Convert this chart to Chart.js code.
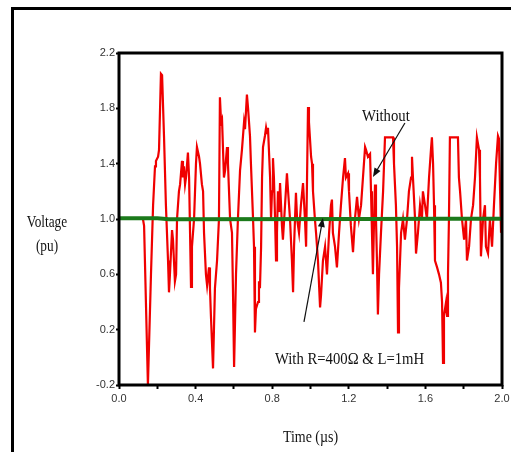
<!DOCTYPE html>
<html>
<head>
<meta charset="utf-8">
<script src="https://cdn.jsdelivr.net/npm/chart.js@4"></script>
<style>
  html, body { margin: 0; padding: 0; background: #fff; }
  #wrap { width: 511px; height: 452px; }
</style>
</head>
<body>
<div id="wrap"><canvas id="voltage-chart" width="511" height="452"></canvas></div>
<script>
// Red trace (without damping), time in µs and voltage in pu
const redTime = [
  0.125, 0.131, 0.151, 0.167, 0.178, 0.188, 0.193, 0.204, 0.209, 0.219, 0.225, 0.235, 0.245, 0.256, 0.261, 0.266,
  0.277, 0.282, 0.292, 0.298, 0.303, 0.313, 0.319, 0.329, 0.334, 0.339, 0.345, 0.350, 0.360, 0.366, 0.371, 0.376,
  0.381, 0.392, 0.402, 0.407, 0.418, 0.423, 0.433, 0.439, 0.444, 0.454, 0.460, 0.470, 0.475, 0.480, 0.491, 0.501,
  0.512, 0.522, 0.527, 0.533, 0.538, 0.548, 0.554, 0.564, 0.569, 0.580, 0.590, 0.595, 0.601, 0.611, 0.621, 0.632,
  0.642, 0.653, 0.658, 0.668, 0.674, 0.684, 0.689, 0.700, 0.705, 0.710, 0.715, 0.726, 0.731, 0.736, 0.742, 0.747,
  0.752, 0.762, 0.768, 0.773, 0.778, 0.789, 0.794, 0.799, 0.804, 0.809, 0.815, 0.820, 0.825, 0.830, 0.836, 0.841,
  0.851, 0.856, 0.867, 0.877, 0.883, 0.893, 0.903, 0.909, 0.914, 0.924, 0.930, 0.940, 0.950, 0.961, 0.971, 0.977,
  0.982, 0.987, 0.992, 1.003, 1.008, 1.013, 1.023, 1.029, 1.039, 1.050, 1.055, 1.065, 1.076, 1.086, 1.097, 1.107,
  1.112, 1.117, 1.128, 1.138, 1.149, 1.159, 1.170, 1.180, 1.185, 1.196, 1.201, 1.211, 1.222, 1.232, 1.243, 1.253,
  1.264, 1.274, 1.285, 1.290, 1.300, 1.311, 1.316, 1.321, 1.326, 1.332, 1.337, 1.342, 1.347, 1.352, 1.358, 1.368,
  1.379, 1.389, 1.410, 1.431, 1.436, 1.441, 1.446, 1.452, 1.457, 1.462, 1.473, 1.483, 1.493, 1.504, 1.514, 1.525,
  1.530, 1.535, 1.546, 1.551, 1.561, 1.572, 1.582, 1.587, 1.598, 1.608, 1.619, 1.629, 1.634, 1.640, 1.645, 1.650,
  1.661, 1.671, 1.681, 1.687, 1.692, 1.697, 1.708, 1.713, 1.718, 1.723, 1.728, 1.749, 1.770, 1.775, 1.781, 1.791,
  1.802, 1.812, 1.817, 1.828, 1.838, 1.849, 1.859, 1.869, 1.880, 1.885, 1.890, 1.901, 1.911, 1.916, 1.927, 1.937,
  1.948, 1.958, 1.969, 1.979, 1.984, 1.990, 1.995, 2.000
];
const redVolt = [
  1.00, 0.95, -0.20, 0.60, 1.10, 1.38, 1.42, 1.45, 1.50, 2.05, 2.04, 1.60, 1.10, 0.70, 0.47, 0.60,
  0.92, 0.85, 0.55, 0.60, 1.00, 1.20, 1.25, 1.42, 1.30, 1.38, 1.25, 1.30, 1.48, 1.30, 0.90, 0.51,
  0.80, 1.00, 1.40, 1.52, 1.45, 1.40, 1.25, 1.20, 0.90, 0.60, 0.52, 0.65, 0.50, 0.30, -0.08, 0.50,
  0.70, 1.00, 1.88, 1.70, 1.72, 1.30, 1.35, 1.52, 1.40, 1.00, 0.90, 0.50, -0.07, 0.60, 1.00, 1.35,
  1.50, 1.70, 1.65, 1.90, 1.80, 1.60, 1.40, 1.00, 0.80, 0.18, 0.35, 0.40, 0.55, 0.50, 0.80, 1.30,
  1.52, 1.60, 1.66, 1.62, 1.66, 1.30, 1.00, 1.20, 1.44, 1.30, 1.00, 0.70, 0.90, 1.20, 1.05, 1.26,
  0.95, 0.85, 1.10, 1.33, 1.20, 1.00, 0.70, 0.47, 0.80, 1.19, 1.00, 0.90, 1.10, 1.26, 1.00, 0.80,
  1.30, 1.81, 1.70, 1.45, 1.40, 1.20, 1.00, 0.90, 0.70, 0.36, 0.45, 0.70, 0.80, 0.60, 0.90, 1.10,
  1.14, 0.90, 0.80, 0.65, 0.90, 1.10, 1.30, 1.44, 1.30, 1.33, 1.20, 0.95, 0.76, 1.00, 1.16, 1.00,
  1.10, 1.30, 1.52, 1.50, 1.45, 1.47, 1.20, 0.90, 0.60, 1.00, 1.25, 1.00, 0.70, 0.31, 0.60, 0.90,
  1.20, 1.59, 1.59, 1.59, 1.40, 1.25, 1.10, 0.80, 0.18, 0.50, 0.90, 1.00, 0.85, 1.00, 1.20, 1.30,
  1.45, 1.30, 1.00, 0.75, 0.90, 1.10, 1.00, 1.20, 1.10, 1.00, 1.30, 1.50, 1.59, 1.40, 1.10, 0.70,
  0.65, 0.60, 0.54, 0.40, -0.04, 0.30, 0.40, 0.30, 0.60, 1.00, 1.59, 1.59, 1.59, 1.30, 1.20, 1.00,
  0.85, 1.00, 0.70, 0.80, 1.00, 1.10, 1.30, 1.59, 1.50, 1.30, 0.73, 1.00, 1.10, 0.80, 0.75, 1.00,
  0.80, 1.10, 1.40, 1.60, 1.58, 1.20, 0.90, 1.00
];

// Green trace (with R=400 ohm & L=1mH)
const greenTime = [0.0, 0.20, 0.26, 1.30, 1.68, 2.0];
const greenVolt = [1.005, 1.005, 0.998, 1.0, 1.002, 1.002];

const xTicks = [0, 0.2, 0.4, 0.6, 0.8, 1.0, 1.2, 1.4, 1.6, 1.8, 2.0];
const xLabels = ['0.0', '', '0.4', '', '0.8', '', '1.2', '', '1.6', '', '2.0'];
const yTicks = [-0.2, 0.2, 0.6, 1.0, 1.4, 1.8, 2.2];
const yLabels = ['-0.2', '0.2', '0.6', '1.0', '1.4', '1.8', '2.2'];

const SERIF = '"Liberation Serif", "Times New Roman", serif';
const NARROW = '"Liberation Sans Narrow", "Liberation Sans", Arial, sans-serif';

function squishText(ctx, text, x, y, size, sx, align) {
    ctx.save();
    ctx.font = size + 'px ' + SERIF;
    ctx.fillStyle = '#111';
    ctx.textBaseline = 'alphabetic';
    const w = ctx.measureText(text).width * sx;
    let left = x;
    if (align === 'center') left = x - w / 2;
    ctx.translate(left, y);
    ctx.scale(sx, 1);
    ctx.textAlign = 'left';
    ctx.fillText(text, 0, 0);
    ctx.restore();
}

function arrow(ctx, x1, y1, x2, y2) {
    const a = Math.atan2(y2 - y1, x2 - x1);
    const len = 9, half = 3.5;
    ctx.save();
    ctx.strokeStyle = '#111';
    ctx.fillStyle = '#111';
    ctx.lineWidth = 1.2;
    ctx.beginPath();
    ctx.moveTo(x1, y1);
    ctx.lineTo(x2 - Math.cos(a) * len * 0.8, y2 - Math.sin(a) * len * 0.8);
    ctx.stroke();
    ctx.beginPath();
    ctx.moveTo(x2, y2);
    ctx.lineTo(x2 - Math.cos(a) * len - Math.sin(a) * half, y2 - Math.sin(a) * len + Math.cos(a) * half);
    ctx.lineTo(x2 - Math.cos(a) * len + Math.sin(a) * half, y2 - Math.sin(a) * len - Math.cos(a) * half);
    ctx.closePath();
    ctx.fill();
    ctx.restore();
}

const decorations = {
    id: 'decorations',
    beforeDraw(chart) {
        const ctx = chart.ctx;
        ctx.save();
        ctx.fillStyle = '#fff';
        ctx.fillRect(0, 0, chart.width, chart.height);
        // outer frame, only top and left edges show
        ctx.fillStyle = '#000';
        ctx.fillRect(11, 7, chart.width - 11, 3);
        ctx.fillRect(11, 7, 3, chart.height - 7);
        ctx.restore();
    },
    afterDatasetsDraw(chart) {
        const ctx = chart.ctx;
        const { left, right, top, bottom } = chart.chartArea;
        const xs = chart.scales.x, ys = chart.scales.y;
        ctx.save();
        ctx.strokeStyle = '#000';
        ctx.lineWidth = 3;
        ctx.strokeRect(left, top, right - left, bottom - top);
        ctx.restore();

        // annotations
        squishText(ctx, 'Without', xs.getPixelForValue(1.394), ys.getPixelForValue(1.709), 16, 0.92, 'center');
        arrow(ctx, xs.getPixelForValue(1.493), ys.getPixelForValue(1.694), xs.getPixelForValue(1.326), ys.getPixelForValue(1.304));
        squishText(ctx, 'With R=400Ω & L=1mH', xs.getPixelForValue(1.204), ys.getPixelForValue(-0.048), 16, 0.92, 'center');
        arrow(ctx, xs.getPixelForValue(0.966), ys.getPixelForValue(0.256), xs.getPixelForValue(1.065), ys.getPixelForValue(1.0075));

        // axis titles
        squishText(ctx, 'Voltage', 47, 227, 17, 0.78, 'center');
        squishText(ctx, '(pu)', 47, 251, 17, 0.78, 'center');
        squishText(ctx, 'Time (µs)', (left + right) / 2, 442, 17, 0.82, 'center');
    }
};

const ctx = document.getElementById('voltage-chart').getContext('2d');
const chart = new Chart(ctx, {
    type: 'scatter',
    data: {
        datasets: [
            {
                label: 'With R=400Ω & L=1mH',
                data: greenTime.map((t, i) => ({ x: t, y: greenVolt[i] })),
                showLine: true, borderColor: '#1b7a1b', borderWidth: 4, pointRadius: 0, order: 0
            },
            {
                label: 'Without',
                data: redTime.map((t, i) => ({ x: t, y: redVolt[i] })),
                showLine: true, borderColor: '#f00000', borderWidth: 2.2, pointRadius: 0, order: 1,
                borderJoinStyle: 'miter'
            }
        ]
    },
    options: {
        responsive: false,
        maintainAspectRatio: false,
        animation: false,
        layout: { padding: { top: 53, right: 9, left: 0, bottom: 0 } },
        plugins: { legend: { display: false }, tooltip: { enabled: false } },
        scales: {
            x: {
                type: 'linear', min: 0, max: 2,
                afterFit: s => { s.height = 67; s.paddingLeft = 0; s.paddingRight = 0; },
                afterBuildTicks: s => { s.ticks = xTicks.map(v => ({ value: v })); },
                border: { display: false },
                grid: { drawOnChartArea: false, drawTicks: true, tickLength: 4, tickWidth: 2, color: '#000' },
                ticks: {
                    autoSkip: false, maxRotation: 0, padding: 3, color: '#333',
                    font: { family: NARROW, size: 11 },
                    callback: (v, i) => xLabels[i]
                }
            },
            y: {
                type: 'linear', min: -0.2, max: 2.2,
                afterFit: s => { s.width = 119; s.paddingTop = 0; s.paddingBottom = 0; },
                afterBuildTicks: s => { s.ticks = yTicks.map(v => ({ value: v })); },
                border: { display: false },
                grid: { drawOnChartArea: false, drawTicks: true, tickLength: 3, tickWidth: 2, color: '#000' },
                ticks: {
                    autoSkip: false, padding: 1, color: '#333',
                    font: { family: NARROW, size: 11 },
                    callback: (v, i) => yLabels[i]
                }
            }
        }
    },
    plugins: [decorations]
});
</script>
</body>
</html>
